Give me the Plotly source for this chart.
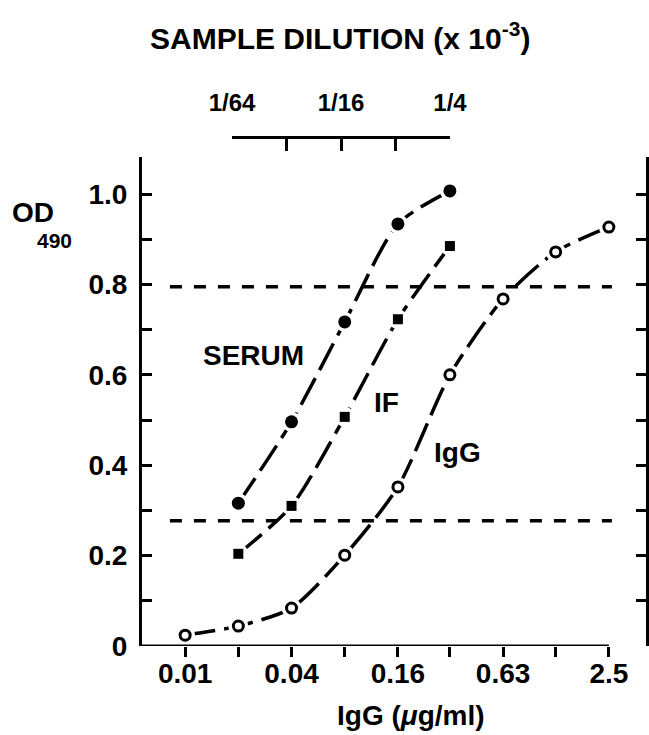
import plotly.graph_objects as go
import math

# ---------------- data ----------------
IGG_X = [0.01, 0.02, 0.04, 0.08, 0.16, 0.315, 0.63, 1.25, 2.5]
SERUM_X = [0.02, 0.04, 0.08, 0.16, 0.315]
SERUM_Y = [0.316, 0.496, 0.717, 0.934, 1.007]
IF_X = [0.02, 0.04, 0.08, 0.16, 0.315]
IF_Y = [0.204, 0.310, 0.507, 0.723, 0.885]
IGG_Y = [0.024, 0.044, 0.084, 0.201, 0.352, 0.600, 0.768, 0.872, 0.927]
THRESHOLDS = [0.795, 0.277]
THRESH_X = [0.0082, 2.6]

X_LABEL_VALS = [0.01, 0.04, 0.16, 0.63, 2.5]
X_LABEL_TEXT = ["0.01", "0.04", "0.16", "0.63", "2.5"]
X_MINOR_VALS = [0.02, 0.08, 0.315, 1.25]
Y_LABEL_VALS = [0, 0.2, 0.4, 0.6, 0.8, 1.0]
Y_LABEL_TEXT = ["0", "0.2", "0.4", "0.6", "0.8", "1.0"]
Y_MINOR_VALS = [0.1, 0.3, 0.5, 0.7, 0.9]
DIL_LABEL_VALS = [1/64, 1/16, 1/4]
DIL_LABEL_TEXT = ["1/64", "1/16", "1/4"]
DIL_MINOR_VALS = [1/32, 1/8]

# ---------------- layout geometry (pixels) ----------------
W, H = 649, 735
ML, MR, MT, MB = 142, 3, 20, 89
plot_top_px = 157
top_axis_px = 137
paper_h = H - MT - MB
bottom_px = H - MB
y_dom_top = (bottom_px - plot_top_px) / paper_h
top_axis_pos = (bottom_px - top_axis_px) / paper_h
paper_w = W - ML - MR
dil_dom = [(232 - ML) / paper_w, (450 - ML) / paper_w]

X_RANGE = [-2.2442, 0.6081]
Y_RANGE = [0, 1.082]

FONT = "Liberation Sans, Arial, sans-serif"
BLACK = "#000000"
WEIGHT = "bold"

fig = go.Figure()

# threshold dashed lines
for t in THRESHOLDS:
    fig.add_trace(go.Scatter(x=THRESH_X, y=[t, t], mode="lines",
                             line=dict(color=BLACK, width=3.5, dash="12px,12px"),
                             hoverinfo="skip", showlegend=False, cliponaxis=False))

series = [
    (SERUM_X, SERUM_Y, dict(symbol="circle", size=13, color=BLACK)),
    (IF_X, IF_Y, dict(symbol="square", size=10, color=BLACK)),
    (IGG_X, IGG_Y, dict(symbol="circle", size=10, color="white",
                        line=dict(color=BLACK, width=3))),
]
for xs, ys, mk in series:
    fig.add_trace(go.Scatter(x=xs, y=ys, mode="lines",
                             line=dict(color=BLACK, width=3.5, shape="spline",
                                       smoothing=0.7, dash="30px,9px"),
                             showlegend=False, cliponaxis=False))
for xs, ys, mk in series:
    fig.add_trace(go.Scatter(x=xs, y=ys, mode="markers",
                             marker=dict(symbol="circle", size=20, color="white"),
                             showlegend=False, cliponaxis=False, hoverinfo="skip"))
for xs, ys, mk in series:
    fig.add_trace(go.Scatter(x=xs, y=ys, mode="markers", marker=mk,
                             showlegend=False, cliponaxis=False))

# helper trace for the top dilution axis
fig.add_trace(go.Scatter(x=DIL_LABEL_VALS, y=[None] * len(DIL_LABEL_VALS),
                         xaxis="x2", yaxis="y3", mode="markers",
                         showlegend=False, hoverinfo="skip"))

# bottom axis line (ends at last tick)
fig.add_shape(type="line", xref="x", yref="y",
              x0=10 ** X_RANGE[0], x1=X_LABEL_VALS[-1], y0=0, y1=0,
              line=dict(color=BLACK, width=3))

tickfont = dict(family=FONT, size=28, color=BLACK, weight=WEIGHT)

fig.update_layout(
    width=W, height=H, autosize=False,
    margin=dict(l=ML, r=MR, t=MT, b=MB, pad=0, autoexpand=False),
    paper_bgcolor="white", plot_bgcolor="white",
    showlegend=False,
    font=dict(family=FONT, color=BLACK),
    xaxis=dict(type="log", range=X_RANGE, domain=[0, 1], automargin=False,
               showline=False, showgrid=False, zeroline=False,
               tickmode="array", tickvals=X_LABEL_VALS, ticktext=X_LABEL_TEXT,
               ticks="outside", ticklen=10, tickwidth=3, tickcolor=BLACK,
               minor=dict(tickmode="array", tickvals=X_MINOR_VALS, ticks="outside",
                          ticklen=10, tickwidth=3, tickcolor=BLACK, showgrid=False),
               tickfont=tickfont, ticklabelstandoff=-8),
    yaxis=dict(range=Y_RANGE, domain=[0, y_dom_top], automargin=False,
               showline=True, linewidth=3, linecolor=BLACK, mirror="ticks",
               showgrid=False, zeroline=False,
               tickmode="array", tickvals=Y_LABEL_VALS, ticktext=Y_LABEL_TEXT,
               ticks="inside", ticklen=10, tickwidth=3, tickcolor=BLACK,
               minor=dict(tickmode="array", tickvals=Y_MINOR_VALS, ticks="inside",
                          ticklen=10, tickwidth=3, tickcolor=BLACK, showgrid=False),
               tickfont=tickfont, ticklabelstandoff=6),
    xaxis2=dict(type="log", range=[math.log10(DIL_LABEL_VALS[0]), math.log10(DIL_LABEL_VALS[-1])],
                domain=dil_dom, anchor="free", position=top_axis_pos, side="top",
                automargin=False,
                showline=True, linewidth=3, linecolor=BLACK,
                showgrid=False, zeroline=False,
                tickmode="array", tickvals=DIL_LABEL_VALS, ticktext=DIL_LABEL_TEXT,
                ticks="inside", ticklen=12, tickwidth=3, tickcolor=BLACK,
                minor=dict(tickmode="array", tickvals=DIL_MINOR_VALS, ticks="inside",
                           ticklen=12, tickwidth=3, tickcolor=BLACK, showgrid=False),
                tickfont=dict(family=FONT, size=24, color=BLACK, weight=WEIGHT),
                ticklabelstandoff=15),
    yaxis3=dict(domain=[top_axis_pos, 1], anchor="x2", visible=False, range=[0, 1]),
)


def px_to_paper(px, py):
    return (px - ML) / paper_w, (bottom_px - py) / paper_h


for text, (px, py), size in [
    ("SAMPLE DILUTION (x 10<sup>-3</sup>)", (340, 36), 30),
    ("OD", (33, 213), 28),
    ("490", (54, 240), 21),
    ("SERUM", (253, 355), 28),
    ("IF", (386, 402), 28),
    ("IgG", (457, 452), 28),
    ("IgG (<i>μ</i>g/ml)", (411, 715), 28),
]:
    xp, yp = px_to_paper(px, py)
    fig.add_annotation(x=xp, y=yp, xref="paper", yref="paper", text=text,
                       showarrow=False, xanchor="center", yanchor="middle",
                       font=dict(family=FONT, size=size, color=BLACK, weight=WEIGHT))

fig.write_html("out.html", config={"responsive": False})
